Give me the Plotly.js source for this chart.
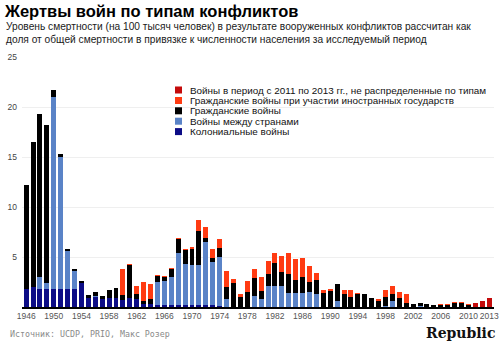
<!DOCTYPE html>
<html>
<head>
<meta charset="utf-8">
<script src="https://cdn.plot.ly/plotly-3.0.1.min.js"></script>
<style>
  html, body { margin: 0; padding: 0; background: #fff; }
  #chart { width: 500px; height: 342px; }
</style>
</head>
<body>
<div id="chart"></div>
<script>
// ---- Data ----
const years = [1946,1947,1948,1949,1950,1951,1952,1953,1954,1955,1956,1957,1958,1959,
  1960,1961,1962,1963,1964,1965,1966,1967,1968,1969,1970,1971,1972,1973,1974,1975,1976,1977,1978,1979,
  1980,1981,1982,1983,1984,1985,1986,1987,1988,1989,1990,1991,1992,1993,1994,1995,1996,1997,1998,1999,
  2000,2001,2002,2003,2004,2005,2006,2007,2008,2009,2010,2011,2012,2013];

const colonial = [1.85,2.05,1.8,1.8,1.8,1.8,1.85,1.8,2.45,0.9,1.0,0.85,0.9,0.9,
  0.75,0.95,0.85,0.3,0.3,0.25,0.25,0.25,0.25,0.25,0.2,0.2,0.25,0.2,0.1,0,0,0,0,0,
  0,0,0,0,0,0,0,0,0,0,0,0,0,0,0,0,0,0,0,0,
  0,0,0,0,0,0,0,0,0,0,0,0,0,0];

const interstate = [0,0,1.2,0.6,19.2,13.2,3.75,1.8,0,0,0.1,0,0,0,
  0,0,0,0,0,2.25,2.35,2.75,5.15,4.05,4.05,4.0,6.25,4.3,4.9,0.8,0,0,0,1.1,
  0.85,2.1,2.1,2.1,1.4,1.4,1.4,1.55,1.35,0,0,0.6,0,0,0,0,0,0,0.15,0.6,
  0.05,0,0,0.1,0,0,0,0,0,0,0,0,0,0];

const civil = [10.35,14.5,16.3,15.8,0.7,0.3,0.2,0.2,0.15,0.3,0.4,0.3,0.85,1.0,
  0.45,3.25,0.45,0.35,0.5,0.6,0.4,0.8,1.4,1.4,1.6,3.4,0.4,0.4,0.9,1.2,2.45,1.05,1.55,1.8,
  0.8,1.2,2.3,1.4,1.9,1.35,1.6,1.0,1.35,1.45,1.6,1.7,1.35,1.0,1.35,1.3,0.9,0.6,0.85,0.7,
  0.9,0.45,0.35,0.3,0.3,0.2,0.25,0.25,0.4,0.4,0.2,0,0,0];

const foreignCivil = [0,0,0,0,0,0,0,0,0,0,0,0,0,0,
  2.6,0.1,0.8,1.85,1.5,0.15,0.15,0.1,0.1,0.1,0.15,1.1,1.1,0.9,0.9,1.6,0.35,0.25,1.05,0.9,
  1.35,1.3,1.05,1.6,2.1,2.1,1.95,1.55,0.7,0.25,0.2,0,0.35,0.7,0.05,0,0,0.2,0.7,0.85,
  0.55,0.85,0,0,0,0.05,0.05,0.1,0.1,0.15,0.1,0,0,0];

const unassigned = [0,0,0,0,0,0,0,0,0,0,0,0,0,0,
  0,0,0,0,0,0,0,0,0,0,0,0,0,0,0,0,0,0,0,0,
  0,0,0,0,0,0,0,0,0,0,0,0,0,0,0,0,0,0,0,0,
  0,0,0,0,0,0,0,0,0,0,0,0.45,0.65,0.9];

const seriesNames = [
  "Колониальные войны",
  "Войны между странами",
  "Гражданские войны",
  "Гражданские войны при участии иностранных государств",
  "Войны в период с 2011 по 2013 гг., не распределенные по типам"
];
const seriesColors = ["#0c0c86", "#5a83c7", "#000000", "#ff3b12", "#c40b0b"];
const seriesValues = [colonial, interstate, civil, foreignCivil, unassigned];

const xTickVals = [1946,1950,1954,1958,1962,1966,1970,1974,1978,1982,1986,1990,1994,1998,2002,2006,2010,2013];
const yTickVals = [5,10,15,20,25];

const titleText = "Жертвы войн по типам конфликтов";
const subtitleText = "Уровень смертности (на 100 тысяч человек) в результате вооруженных конфликтов рассчитан как<br>доля от общей смертности в привязке к численности населения за исследуемый период";
const sourceText = "Источник: UCDP, PRIO, Макс Розер";

// ---- Geometry helpers (pixels -> paper) ----
const W = 500, H = 342;
const M = {l: 22, r: 6, t: 57, b: 35};
const pw = W - M.l - M.r, ph = H - M.t - M.b;
const px = x => (x - M.l) / pw;
const py = y => (H - M.b - y) / ph;

const traces = seriesValues.map((vals, i) => ({
  type: "bar",
  x: years,
  y: vals,
  name: seriesNames[i],
  marker: {color: seriesColors[i], line: {width: 0}},
  showlegend: false,
  hoverinfo: "x+y+name"
}));

const annotations = [
  {text: subtitleText, xref: "paper", yref: "paper", x: px(4), y: py(19),
   xanchor: "left", yanchor: "top", align: "left", showarrow: false,
   font: {family: "Liberation Sans, Arial, sans-serif", size: 10.2, color: "#1a1a1a"}},
  {text: sourceText, xref: "paper", yref: "paper", x: px(8), y: py(334),
   xanchor: "left", yanchor: "middle", showarrow: false,
   font: {family: "DejaVu Sans Mono, monospace", size: 8.3, color: "#8a8a8a"}},
  {text: "<b>Republic</b>", xref: "paper", yref: "paper", x: px(497), y: py(333),
   xanchor: "right", yanchor: "middle", showarrow: false,
   font: {family: "DejaVu Serif, Liberation Serif, serif", size: 14, color: "#111"}}
];
const shapes = [];

// custom compact legend (top item = last series)
const legendRowsY = [90, 100.5, 110.8, 121.2, 131.6];
for (let k = 0; k < 5; k++) {
  const i = 4 - k;
  const yc = legendRowsY[k];
  shapes.push({type: "rect", xref: "paper", yref: "paper",
    x0: px(175), x1: px(182), y0: py(yc + 3.5), y1: py(yc - 3.5),
    fillcolor: seriesColors[i], line: {width: 0}});
  annotations.push({text: seriesNames[i], xref: "paper", yref: "paper",
    x: px(188), y: py(yc), xanchor: "left", yanchor: "middle", showarrow: false,
    font: {family: "Liberation Sans, Arial, sans-serif", size: 9.9, color: "#111"}});
}

const layout = {
  width: W, height: H,
  margin: M,
  paper_bgcolor: "#ffffff",
  plot_bgcolor: "#ffffff",
  barmode: "stack",
  bargap: 0.28,
  title: {text: "<b>" + titleText + "</b>", x: 5 / W, xref: "container", xanchor: "left",
          y: 1 - 11 / H, yref: "container", yanchor: "middle",
          font: {family: "Liberation Sans, Arial, sans-serif", size: 16.5, color: "#000"}},
  xaxis: {
    range: [1945.4, 2013.7],
    tickmode: "array", tickvals: xTickVals, ticktext: xTickVals.map(String),
    showgrid: false, zeroline: false,
    showline: true, linecolor: "#000", linewidth: 1.5,
    ticks: "", tickangle: 0,
    tickfont: {family: "Liberation Sans, Arial, sans-serif", size: 8.5, color: "#555"},
    fixedrange: true
  },
  yaxis: {
    range: [0, 25],
    tickmode: "array", tickvals: yTickVals, ticktext: yTickVals.map(String),
    showgrid: true, gridcolor: "#efefef", gridwidth: 1,
    zeroline: false, showline: false, ticks: "",
    tickfont: {family: "Liberation Sans, Arial, sans-serif", size: 8.5, color: "#444"},
    ticklabelstandoff: 4, fixedrange: true
  },
  showlegend: false,
  annotations: annotations,
  shapes: shapes
};

Plotly.newPlot("chart", traces, layout, {displayModeBar: false, staticPlot: true});
</script>
</body>
</html>
